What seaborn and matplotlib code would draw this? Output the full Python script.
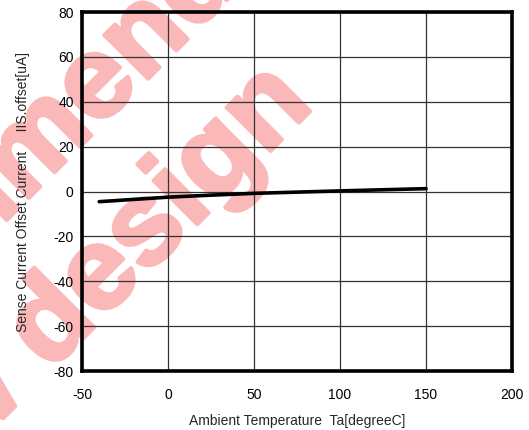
import matplotlib
matplotlib.use("Agg")
import matplotlib.pyplot as plt
import matplotlib.patheffects as pe
import seaborn as sns
import pandas as pd

# ---- data ----
temps = [-40, 0, 25, 50, 100, 150]
offset_ua = [-4.5, -2.5, -1.6, -0.8, 0.3, 1.3]

x_ticks = [-50, 0, 50, 100, 150, 200]
y_ticks = [-80, -60, -40, -20, 0, 20, 40, 60, 80]

df = pd.DataFrame({"temp": temps, "offset": offset_ua})

sns.set_style("white")
plt.rcParams["font.family"] = ["Liberation Sans", "DejaVu Sans"]
plt.rcParams["axes.unicode_minus"] = False

fig = plt.figure(figsize=(5.29, 4.30), dpi=100)
ax = fig.add_axes([0.155, 0.137, 0.813, 0.835])
ax.patch.set_alpha(0)

# watermark behind the plot
wm_col = "#fbb8b8"
wm = dict(color=wm_col, fontsize=84, fontweight="bold",
          rotation=45, rotation_mode="anchor", ha="right", va="baseline", zorder=-1,
          path_effects=[pe.withStroke(linewidth=3, foreground=wm_col)])
fig.text(0.64, 1.26, "Not recommended", **wm)
fig.text(0.595, 0.752, "for new design", **wm)

sns.lineplot(data=df, x="temp", y="offset", color="black", linewidth=2.6, ax=ax)

ax.set_xlim(-50, 200)
ax.set_ylim(-80, 80)
ax.set_xticks(x_ticks)
ax.set_yticks(y_ticks)
ax.grid(True, color="#333333", linewidth=0.9)
ax.tick_params(length=0, labelsize=10, pad=6, colors="black")
ax.tick_params(axis="x", pad=12)
for s in ax.spines.values():
    s.set_visible(True)
    s.set_color("black")
    s.set_linewidth(2.6)

ax.set_xlabel("Ambient Temperature  Ta[degreeC]", fontsize=10, labelpad=9)
ax.set_ylabel("Sense Current Offset Current     IIS.offset[uA]", fontsize=10, labelpad=17)

fig.savefig("out.png", dpi=100)
